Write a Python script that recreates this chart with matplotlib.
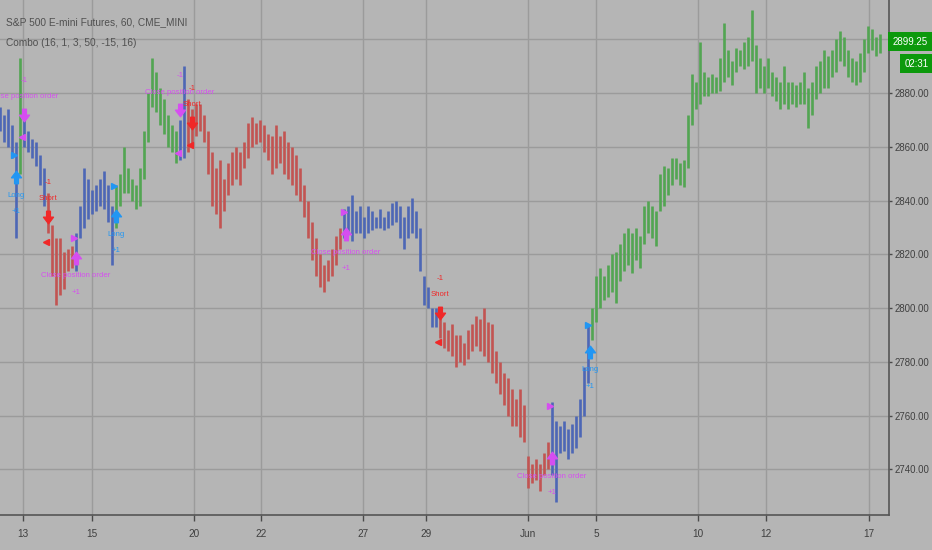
import matplotlib.pyplot as plt
from matplotlib.path import Path

plt.rcParams['font.family'] = ['Liberation Sans', 'DejaVu Sans']

# hourly-ish bars (2 hours per bar), high / low
highs = [2875, 2872, 2874, 2868, 2862, 2893, 2873, 2866, 2863, 2862,
         2857, 2852, 2843, 2831, 2826, 2826, 2821, 2822, 2823, 2828,
         2838, 2852, 2848, 2844, 2846, 2848, 2851, 2846, 2838, 2846,
         2850, 2860, 2852, 2848, 2846, 2852, 2866, 2880, 2893, 2888,
         2882, 2878, 2872, 2868, 2866, 2870, 2890, 2878, 2874, 2876,
         2876, 2872, 2866, 2858, 2852, 2855, 2848, 2854, 2858, 2860,
         2858, 2862, 2869, 2871, 2869, 2870, 2868, 2865, 2864, 2868,
         2864, 2866, 2862, 2860, 2857, 2852, 2846, 2840, 2832, 2826,
         2820, 2816, 2818, 2822, 2827, 2830, 2837, 2838, 2842, 2836,
         2838, 2834, 2838, 2836, 2834, 2837, 2834, 2836, 2839, 2840,
         2838, 2834, 2838, 2841, 2836, 2830, 2812, 2808, 2800, 2800,
         2800, 2795, 2792, 2794, 2790, 2790, 2787, 2792, 2794, 2797,
         2796, 2800, 2795, 2794, 2784, 2780, 2776, 2774, 2770, 2766,
         2770, 2764, 2745, 2742, 2744, 2742, 2746, 2750, 2765, 2758,
         2756, 2758, 2755, 2757, 2760, 2766, 2778, 2794, 2800, 2812,
         2815, 2812, 2816, 2820, 2821, 2824, 2828, 2830, 2828, 2830,
         2827, 2838, 2840, 2838, 2836, 2850, 2853, 2852, 2856, 2856,
         2854, 2855, 2872, 2887, 2884, 2899, 2888, 2886, 2887, 2886,
         2893, 2906, 2896, 2892, 2897, 2896, 2899, 2901, 2911, 2898,
         2893, 2890, 2893, 2888, 2886, 2884, 2890, 2884, 2884, 2883,
         2884, 2888, 2882, 2884, 2890, 2892, 2896, 2894, 2896, 2900,
         2903, 2901, 2896, 2893, 2892, 2895, 2900, 2905, 2904, 2901, 2902]
lows = [2866, 2862, 2860, 2856, 2826, 2850, 2860, 2858, 2856, 2853,
        2846, 2838, 2828, 2812, 2801, 2805, 2807, 2814, 2815, 2814,
        2826, 2830, 2833, 2835, 2836, 2838, 2837, 2832, 2816, 2830,
        2838, 2843, 2843, 2840, 2837, 2838, 2848, 2862, 2875, 2873,
        2868, 2865, 2860, 2858, 2854, 2855, 2856, 2858, 2860, 2864,
        2866, 2862, 2850, 2838, 2835, 2830, 2836, 2842, 2846, 2848,
        2846, 2852, 2856, 2860, 2861, 2862, 2858, 2855, 2850, 2852,
        2854, 2850, 2848, 2846, 2842, 2840, 2834, 2826, 2818, 2812,
        2808, 2806, 2810, 2812, 2816, 2822, 2826, 2828, 2825, 2828,
        2828, 2826, 2828, 2829, 2830, 2830, 2829, 2830, 2831, 2832,
        2826, 2822, 2826, 2828, 2826, 2814, 2801, 2800, 2793, 2793,
        2789, 2785, 2784, 2782, 2778, 2780, 2779, 2781, 2784, 2786,
        2784, 2782, 2780, 2776, 2772, 2768, 2764, 2760, 2756, 2756,
        2752, 2750, 2733, 2735, 2736, 2732, 2738, 2740, 2738, 2728,
        2746, 2747, 2744, 2746, 2748, 2752, 2760, 2772, 2788, 2795,
        2800, 2803, 2804, 2806, 2802, 2810, 2814, 2816, 2813, 2818,
        2815, 2824, 2828, 2826, 2823, 2836, 2838, 2842, 2846, 2848,
        2846, 2845, 2852, 2868, 2874, 2876, 2879, 2879, 2880, 2880,
        2881, 2884, 2886, 2883, 2888, 2890, 2889, 2890, 2892, 2880,
        2882, 2880, 2882, 2879, 2877, 2874, 2876, 2874, 2876, 2875,
        2876, 2876, 2867, 2872, 2878, 2880, 2882, 2882, 2886, 2888,
        2892, 2890, 2886, 2884, 2883, 2884, 2888, 2895, 2896, 2894, 2895]

# strategy state coloring: first bar of each run and its state
seg_starts = [0, 5, 6, 12, 19, 29, 45, 47, 86, 110, 138, 148]
seg_states = ['flat', 'long', 'flat', 'short', 'flat', 'long', 'flat', 'short',
              'flat', 'short', 'flat', 'long']

# trade signals
sig_bar = [4, 6, 12, 19, 29, 45, 48, 86.5, 110, 138, 147.5]
sig_kind = ['long', 'close_sell', 'short', 'close_buy', 'long', 'close_sell',
            'short', 'close_buy', 'short', 'close_buy', 'long']
sig_arrow = [2848.8, 2871.9, 2834.0, 2818.7, 2834.3, 2873.7, 2868.9, 2827.6,
             2798.2, 2744.2, 2783.8]
sig_fill = [2857.0, 2863.7, 2824.6, 2826.0, 2845.5, 2857.7, 2860.7, 2835.8,
            2787.4, 2763.5, 2793.8]

tick_pos = [5.75, 23, 48.5, 65.25, 90.75, 106.5, 132, 149, 174.5, 191.5, 217.25]
tick_labels = ['13', '15', '20', '22', '27', '29', 'Jun', '5', '10', '12', '17']

last_price = 2899.25
countdown = '02:31'

state_colors = {'flat': '#4d67b5', 'long': '#52a552', 'short': '#c25452'}
bg = '#b5b5b5'

fig = plt.figure(figsize=(9.32, 5.5), dpi=100, facecolor=bg)
ax = fig.add_axes([0, 1 - 515 / 550, 889 / 932, 515 / 550], facecolor=bg)

colors = []
for k, start in enumerate(seg_starts):
    end = seg_starts[k + 1] if k + 1 < len(seg_starts) else len(highs)
    colors += [state_colors[seg_states[k]]] * (end - start)

xs = list(range(len(highs)))
ax.vlines(xs, lows, highs, colors=colors, linewidth=1.9, zorder=3)

# arrow marker
down_arrow = Path([(-0.3, 1), (0.3, 1), (0.3, 0.05), (0.8, 0.05), (0, -1),
                   (-0.8, 0.05), (-0.3, 0.05), (-0.3, 1)],
                  [Path.MOVETO] + [Path.LINETO] * 6 + [Path.CLOSEPOLY])
up_arrow = Path([(x, -y) for x, y in down_arrow.vertices], down_arrow.codes)

styles = {
    'long': ('#2196f3', 'Long', '+1', 'buy'),
    'short': ('#f02828', 'Short', '-1', 'sell'),
    'close_buy': ('#d64ef0', 'Close position order', '+1', 'buy'),
    'close_sell': ('#d64ef0', 'Close position order', '-1', 'sell'),
}
for b, kind, pa, pf in zip(sig_bar, sig_kind, sig_arrow, sig_fill):
    col, label, qty, side = styles[kind]
    buy = side == 'buy'
    ax.plot(b, pa, marker=up_arrow if buy else down_arrow, markersize=9,
            color=col, zorder=5)
    ax.plot(b - 0.4, pf, marker='>' if buy else '<', markersize=4,
            color=col, zorder=5)
    sgn = -1 if buy else 1
    ax.annotate(label, (b, pa), xytext=(0, sgn * 13), textcoords='offset points',
                ha='center', va='center', fontsize=5.6, color=col, zorder=6)
    ax.annotate(qty, (b, pa), xytext=(0, sgn * 25), textcoords='offset points',
                ha='center', va='center', fontsize=5.6, color=col, zorder=6)

ax.set_xlim(0, 222.25)
ax.set_ylim(2723.0, 2914.7)

yt = list(range(2740, 2901, 20))
ax.set_yticks(yt)
# the top level sits under the last-price box, so its label is left blank
ax.set_yticklabels([f'{v:.2f}' if v < 2900 else '' for v in yt])
ax.yaxis.tick_right()
ax.set_xticks(tick_pos)
ax.set_xticklabels(tick_labels)
ax.tick_params(axis='both', colors='#4a4a4a', labelcolor='#3f3f3f', labelsize=7.2,
               width=1, direction='out')
ax.tick_params(axis='x', pad=6, length=4)
ax.tick_params(axis='y', pad=1.5, length=2.5, labelsize=6.9)
ax.grid(True, color='#9b9b9b', linewidth=1)
ax.set_axisbelow(True)
for s in ['top', 'left']:
    ax.spines[s].set_visible(False)
for s in ['right', 'bottom']:
    ax.spines[s].set_color('#555555')
    ax.spines[s].set_linewidth(1.2)

ax.text(0.007, 0.957, 'S&P 500 E-mini Futures, 60, CME_MINI', transform=ax.transAxes,
        fontsize=7.3, color='#505050', va='center')
ax.text(0.007, 0.916, 'Combo (16, 1, 3, 50, -15, 16)', transform=ax.transAxes,
        fontsize=7.3, color='#505050', va='center')

ax.annotate(f'{last_price:.2f}', (1.0, last_price), xycoords=('axes fraction', 'data'),
            xytext=(2.5, 0), textcoords='offset points', ha='left', va='center',
            fontsize=7.0, color='white', zorder=10, annotation_clip=False,
            bbox=dict(boxstyle='square,pad=0.45', fc='#0c990c', ec='none'))
ax.annotate(countdown, (1.0, last_price), xycoords=('axes fraction', 'data'),
            xytext=(11, -16), textcoords='offset points', ha='left', va='center',
            fontsize=7.0, color='white', zorder=10, annotation_clip=False,
            bbox=dict(boxstyle='square,pad=0.45', fc='#0c990c', ec='none'))

fig.savefig('out.png', dpi=100, facecolor=bg)
